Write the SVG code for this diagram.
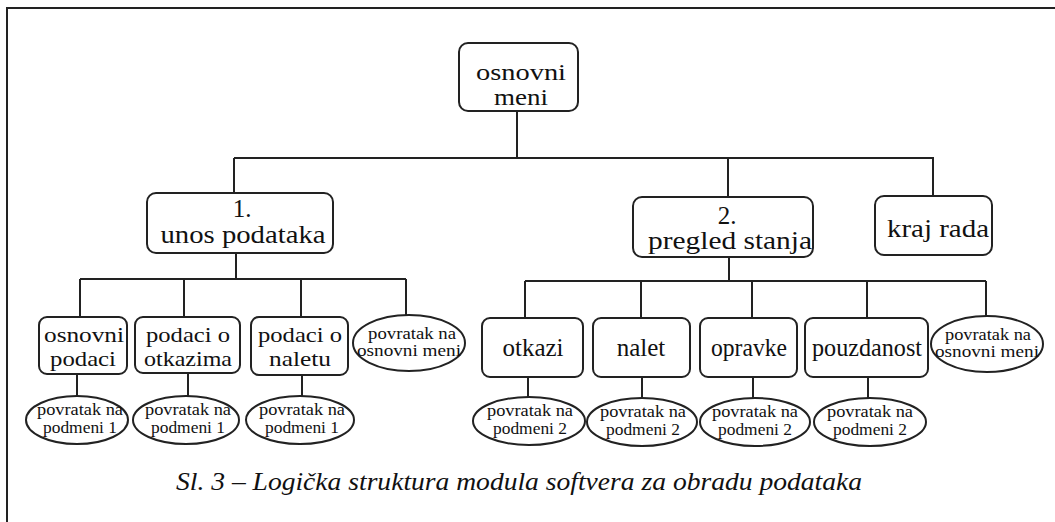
<svg xmlns="http://www.w3.org/2000/svg" width="1055" height="522" viewBox="0 0 1055 522">
<style>
.box{fill:#fff;stroke:#222;stroke-width:2}
.ell{fill:#fff;stroke:#222;stroke-width:2}
.ln{fill:none;stroke:#222;stroke-width:2}
.t1{font-family:"Liberation Serif","Times New Roman",serif;font-size:25px;fill:#111;text-anchor:middle}
.t1s{font-family:"Liberation Serif","Times New Roman",serif;font-size:24px;fill:#111;text-anchor:middle}
.t2{font-family:"Liberation Serif","Times New Roman",serif;font-size:21px;fill:#111;text-anchor:middle}
.t2b{font-family:"Liberation Serif","Times New Roman",serif;font-size:25px;fill:#111;text-anchor:middle}
.t3{font-family:"Liberation Serif","Times New Roman",serif;font-size:16px;fill:#111;text-anchor:middle}
.cap{font-family:"Liberation Serif","Times New Roman",serif;font-size:25px;font-style:italic;fill:#111}
</style>
<rect width="1055" height="522" fill="#fff"/>
<g id="frame"><path class="ln" d="M7,522 V8 H1055"/></g>
<g id="connectors">
<path class="ln" d="M517,111 V158 M234,158 H934 M234,158 V193 M728,158 V197 M933,158 V196"/>
<path class="ln" d="M236,253 V279 M80,279 H406 M80,279 V317 M184,279 V317 M301,279 V317 M406,279 V315"/>
<path class="ln" d="M729,257 V281 M525,281 H986 M525,281 V318 M641,281 V318 M752,281 V318 M867,281 V318 M986,281 V316"/>
<path class="ln" d="M77,374 V396 M188,373 V396 M302,375 V396 M528,377 V397 M642,377 V398 M753,377 V398 M868,377 V398"/>
</g>
<g id="n-osnovni-meni"><rect class="box" x="459" y="43" width="119" height="68" rx="9"/><text class="t1s" x="521" y="80" textLength="90" lengthAdjust="spacingAndGlyphs">osnovni</text><text class="t1s" x="521" y="105" textLength="54" lengthAdjust="spacingAndGlyphs">meni</text></g>
<g id="n-unos"><rect class="box" x="147" y="193" width="186" height="60" rx="9"/><text class="t1" x="242" y="217">1.</text><text class="t1" x="243" y="243" textLength="165" lengthAdjust="spacingAndGlyphs">unos podataka</text></g>
<g id="n-pregled"><rect class="box" x="633" y="197" width="180" height="60" rx="9"/><text class="t1" x="727" y="224">2.</text><text class="t1" x="730" y="249" textLength="164" lengthAdjust="spacingAndGlyphs">pregled stanja</text></g>
<g id="n-kraj"><rect class="box" x="875" y="196" width="117" height="59" rx="9"/><text class="t1" x="938" y="237" textLength="102" lengthAdjust="spacingAndGlyphs">kraj rada</text></g>
<g id="n-osnovni-podaci"><rect class="box" x="39" y="317" width="88" height="57" rx="8"/><text class="t2" x="84" y="342" textLength="80" lengthAdjust="spacingAndGlyphs">osnovni</text><text class="t2" x="83" y="366" textLength="66" lengthAdjust="spacingAndGlyphs">podaci</text></g>
<g id="n-otkazima"><rect class="box" x="135" y="317" width="105" height="56" rx="8"/><text class="t2" x="188" y="342" textLength="84" lengthAdjust="spacingAndGlyphs">podaci o</text><text class="t2" x="188" y="366" textLength="88" lengthAdjust="spacingAndGlyphs">otkazima</text></g>
<g id="n-naletu"><rect class="box" x="251" y="317" width="97" height="58" rx="8"/><text class="t2" x="300" y="342" textLength="84" lengthAdjust="spacingAndGlyphs">podaci o</text><text class="t2" x="300" y="366" textLength="62" lengthAdjust="spacingAndGlyphs">naletu</text></g>
<g id="n-pov-osn-1"><ellipse class="ell" cx="409" cy="343" rx="56" ry="28"/><text class="t3" x="412" y="339" textLength="88" lengthAdjust="spacingAndGlyphs">povratak na</text><text class="t3" x="409" y="356" textLength="104" lengthAdjust="spacingAndGlyphs">osnovni meni</text></g>
<g id="n-otkazi"><rect class="box" x="482" y="318" width="101" height="59" rx="8"/><text class="t2b" x="533" y="356">otkazi</text></g>
<g id="n-nalet"><rect class="box" x="593" y="318" width="97" height="59" rx="8"/><text class="t2b" x="641" y="356">nalet</text></g>
<g id="n-opravke"><rect class="box" x="700" y="318" width="97" height="59" rx="8"/><text class="t2b" x="749" y="356" textLength="76" lengthAdjust="spacingAndGlyphs">opravke</text></g>
<g id="n-pouzdanost"><rect class="box" x="805" y="318" width="123" height="59" rx="8"/><text class="t2b" x="867" y="356" textLength="110" lengthAdjust="spacingAndGlyphs">pouzdanost</text></g>
<g id="n-pov-osn-2"><ellipse class="ell" cx="987" cy="344" rx="56" ry="28"/><text class="t3" x="988" y="340" textLength="86" lengthAdjust="spacingAndGlyphs">povratak na</text><text class="t3" x="987" y="357" textLength="104" lengthAdjust="spacingAndGlyphs">osnovni meni</text></g>
<g id="n-pod1-a"><ellipse class="ell" cx="77" cy="420" rx="51" ry="24"/><text class="t3" x="80" y="415" textLength="86" lengthAdjust="spacingAndGlyphs">povratak na</text><text class="t3" x="80" y="433" textLength="74" lengthAdjust="spacingAndGlyphs">podmeni 1</text></g>
<g id="n-pod1-b"><ellipse class="ell" cx="186" cy="420" rx="53" ry="24"/><text class="t3" x="188" y="415" textLength="86" lengthAdjust="spacingAndGlyphs">povratak na</text><text class="t3" x="188" y="433" textLength="74" lengthAdjust="spacingAndGlyphs">podmeni 1</text></g>
<g id="n-pod1-c"><ellipse class="ell" cx="300" cy="420" rx="54" ry="24"/><text class="t3" x="302" y="415" textLength="86" lengthAdjust="spacingAndGlyphs">povratak na</text><text class="t3" x="302" y="433" textLength="74" lengthAdjust="spacingAndGlyphs">podmeni 1</text></g>
<g id="n-pod2-a"><ellipse class="ell" cx="529" cy="421" rx="56" ry="24"/><text class="t3" x="530" y="416" textLength="86" lengthAdjust="spacingAndGlyphs">povratak na</text><text class="t3" x="530" y="434" textLength="74" lengthAdjust="spacingAndGlyphs">podmeni 2</text></g>
<g id="n-pod2-b"><ellipse class="ell" cx="642" cy="422" rx="55" ry="24"/><text class="t3" x="643" y="417" textLength="86" lengthAdjust="spacingAndGlyphs">povratak na</text><text class="t3" x="643" y="435" textLength="74" lengthAdjust="spacingAndGlyphs">podmeni 2</text></g>
<g id="n-pod2-c"><ellipse class="ell" cx="755" cy="422" rx="55" ry="24"/><text class="t3" x="755" y="417" textLength="86" lengthAdjust="spacingAndGlyphs">povratak na</text><text class="t3" x="755" y="435" textLength="74" lengthAdjust="spacingAndGlyphs">podmeni 2</text></g>
<g id="n-pod2-d"><ellipse class="ell" cx="870" cy="422" rx="56" ry="24"/><text class="t3" x="870" y="417" textLength="86" lengthAdjust="spacingAndGlyphs">povratak na</text><text class="t3" x="870" y="435" textLength="74" lengthAdjust="spacingAndGlyphs">podmeni 2</text></g>
<text class="cap" x="176" y="490" textLength="686" lengthAdjust="spacingAndGlyphs">Sl. 3 – Logička struktura modula softvera za obradu podataka</text>
</svg>
